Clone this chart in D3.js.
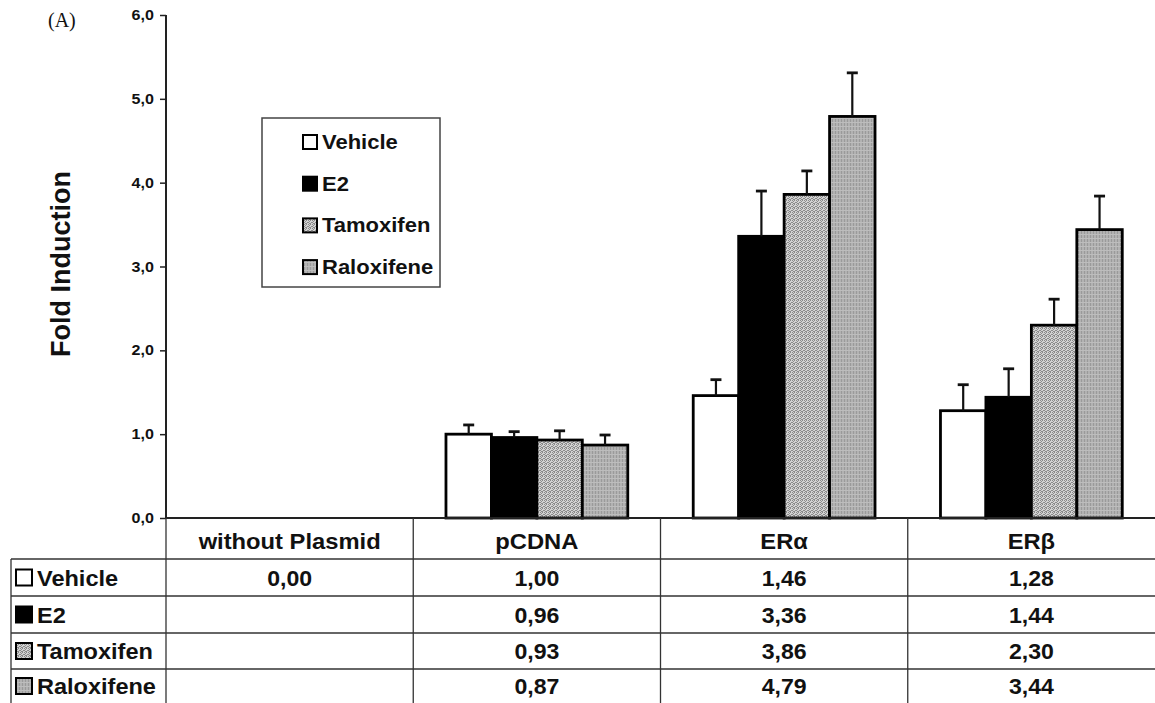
<!DOCTYPE html>
<html>
<head>
<meta charset="utf-8">
<script src="https://cdn.jsdelivr.net/npm/d3@7"></script>
<style>
  body { margin: 0; background: #fff; }
  text { font-family: "Liberation Sans", Arial, sans-serif; font-weight: bold; fill: #111; }
</style>
</head>
<body>
<svg width="1155" height="703"></svg>
<script>
const categories = ['without Plasmid', 'pCDNA', 'ERα', 'ERβ'];
const series = ['Vehicle', 'E2', 'Tamoxifen', 'Raloxifene'];
const vehicle = [0, 1.00, 1.46, 1.28];
const e2 = [null, 0.96, 3.36, 1.44];
const tamoxifen = [null, 0.93, 3.86, 2.30];
const raloxifene = [null, 0.87, 4.79, 3.44];
// upper error bars
const vehicleErr = [null, 0.11, 0.19, 0.31];
const e2Err = [null, 0.07, 0.54, 0.34];
const tamoxifenErr = [null, 0.11, 0.28, 0.31];
const raloxifeneErr = [null, 0.12, 0.52, 0.40];
const yTicks = [0, 1, 2, 3, 4, 5, 6];

const values = [vehicle, e2, tamoxifen, raloxifene];
const errors = [vehicleErr, e2Err, tamoxifenErr, raloxifeneErr];

const svg = d3.select('svg');
const width = +svg.attr('width');

const axisX = 166, yTop = 15, base = 518;
const rowLines = [559, 596, 633, 669, 703]; // table rows under the axis
const tableLeft = 11;

const x = d3.scaleBand().domain(categories).range([axisX, width]);
const xs = d3.scaleBand().domain(series).range([0, x.bandwidth()]).paddingOuter(0.72);
const y = d3.scaleLinear().domain([0, 6]).range([base, yTop]);

const comma = f => v => d3.format(f)(v).replace('.', ',');

// patterns for the stippled fills
const defs = svg.append('defs');
const tam = defs.append('pattern').attr('id', 'tam').attr('patternUnits', 'userSpaceOnUse')
  .attr('width', 4).attr('height', 4);
tam.append('rect').attr('width', 4).attr('height', 4).attr('fill', '#d2d2d2');
[[0, 0], [2, 0], [1, 1], [3, 2], [0, 2], [2, 3], [1, 3]].forEach(([px, py]) =>
  tam.append('rect').attr('x', px).attr('y', py).attr('width', 1).attr('height', 1).attr('fill', '#8a8a8a'));
const ral = defs.append('pattern').attr('id', 'ral').attr('patternUnits', 'userSpaceOnUse')
  .attr('width', 3).attr('height', 4);
ral.append('rect').attr('width', 3).attr('height', 4).attr('fill', '#b2b2b2');
ral.append('rect').attr('x', 1).attr('width', 1).attr('height', 4).attr('fill', '#9a9a9a');
ral.append('rect').attr('y', 2).attr('width', 3).attr('height', 1).attr('fill', '#bdbdbd');

const fills = { Vehicle: '#fff', E2: '#000', Tamoxifen: 'url(#tam)', Raloxifene: 'url(#ral)' };

// text that is a bit wider than the font, like the scanned figure
function label(parent, tx, ty, str, size, anchor, sx) {
  return parent.append('g').attr('transform', `translate(${tx},${ty}) scale(${sx || 1.1},1)`)
    .append('text').attr('font-size', size).attr('text-anchor', anchor || 'start').text(str);
}

// y axis
const gy = svg.append('g').attr('transform', `translate(${axisX},0)`)
  .call(d3.axisLeft(y).tickValues(yTicks).tickFormat(comma('.1f')).tickSize(6).tickPadding(5));
gy.select('.domain').attr('stroke', '#222').attr('stroke-width', 2).attr('d', `M0,${yTop}V${base}`);
gy.selectAll('.tick line').attr('stroke', '#222').attr('stroke-width', 1.5);
gy.selectAll('.tick text').remove();
yTicks.forEach(t => label(svg, axisX - 12, y(t) + 5, comma('.1f')(t), 14, 'end', 1.15));

// y title
svg.append('text').attr('transform', `translate(70,264) rotate(-90)`)
  .attr('text-anchor', 'middle').attr('font-size', 27).text('Fold Induction');

svg.append('text').attr('x', 48).attr('y', 27).attr('font-size', 20)
  .style('font-family', '"Liberation Serif", serif').style('font-weight', 'normal').text('(A)');

// bars and error bars
const bars = [];
series.forEach((s, si) => categories.forEach((c, ci) => {
  const v = values[si][ci];
  if (v) bars.push({ s, c, v, e: errors[si][ci] });
}));

const g = svg.append('g');
g.selectAll('rect.bar').data(bars).join('rect').attr('class', 'bar')
  .attr('x', d => x(d.c) + xs(d.s)).attr('width', xs.bandwidth())
  .attr('y', d => y(d.v)).attr('height', d => y(0) - y(d.v))
  .attr('fill', d => fills[d.s]).attr('stroke', '#000').attr('stroke-width', 2.8);

const eb = g.selectAll('g.err').data(bars).join('g').attr('class', 'err')
  .attr('transform', d => `translate(${x(d.c) + xs(d.s) + xs.bandwidth() / 2},0)`);
eb.append('line').attr('y1', d => y(d.v)).attr('y2', d => y(d.v + d.e))
  .attr('stroke', '#111').attr('stroke-width', 2.2);
eb.append('line').attr('x1', -5.5).attr('x2', 5.5).attr('y1', d => y(d.v + d.e)).attr('y2', d => y(d.v + d.e))
  .attr('stroke', '#111').attr('stroke-width', 2.8);

// baseline
svg.append('line').attr('x1', axisX).attr('x2', width).attr('y1', base).attr('y2', base)
  .attr('stroke', '#222').attr('stroke-width', 2);

// legend
const lg = svg.append('g');
lg.append('rect').attr('x', 262).attr('y', 118).attr('width', 178).attr('height', 169)
  .attr('fill', '#fff').attr('stroke', '#444').attr('stroke-width', 1.5);
series.forEach((s, i) => {
  const cy = 142 + i * 41.7;
  lg.append('rect').attr('x', 303).attr('y', cy - 7).attr('width', 14).attr('height', 14)
    .attr('fill', fills[s]).attr('stroke', '#000').attr('stroke-width', 2);
  label(lg, 322, cy + 7, s, 20, 'start', 1.1);
});

// data table
const tb = svg.append('g').attr('stroke', '#333').attr('stroke-width', 1.3);
rowLines.slice(0, -1).forEach(ly =>
  tb.append('line').attr('x1', tableLeft).attr('x2', width).attr('y1', ly).attr('y2', ly));
tb.append('line').attr('x1', tableLeft).attr('x2', tableLeft).attr('y1', rowLines[0]).attr('y2', 703);
categories.forEach(c =>
  tb.append('line').attr('x1', x(c)).attr('x2', x(c)).attr('y1', base).attr('y2', 703));

categories.forEach(c =>
  label(svg, x(c) + x.bandwidth() / 2, 549, c, 22, 'middle', 1.08));

series.forEach((s, si) => {
  const cy = (rowLines[si] + rowLines[si + 1]) / 2;
  svg.append('rect').attr('x', 16).attr('y', cy - 8).attr('width', 16).attr('height', 16)
    .attr('fill', fills[s]).attr('stroke', '#000').attr('stroke-width', 2);
  label(svg, 37, cy + 8, s, 22, 'start', 1.07);
  categories.forEach((c, ci) => {
    const v = values[si][ci];
    if (v !== null) label(svg, x(c) + x.bandwidth() / 2, cy + 8, comma('.2f')(v), 22, 'middle', 1.05);
  });
});
</script>
</body>
</html>
